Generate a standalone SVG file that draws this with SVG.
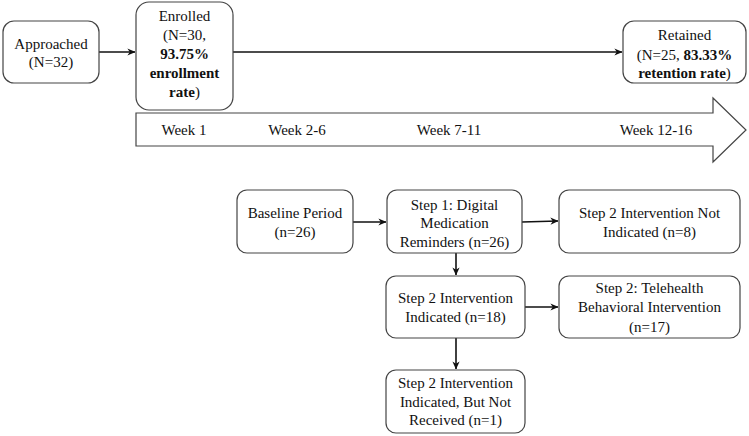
<svg xmlns="http://www.w3.org/2000/svg" width="749" height="436" viewBox="0 0 749 436">
<style>
.box{fill:#fff;stroke:#444;stroke-width:1.2}
.t{font-family:"Liberation Serif","Times New Roman",serif;font-size:15px;fill:#111;text-anchor:middle;dominant-baseline:central}
.b{font-weight:bold}
.c{stroke:#111;stroke-width:1.6;fill:none;marker-end:url(#ah)}
</style>
<defs>
<marker id="ah" viewBox="0 0 10 10" refX="9.5" refY="5" markerWidth="8" markerHeight="8" markerUnits="userSpaceOnUse" orient="auto">
<path d="M0,0.5 L10,5 L0,9.5 L3,5 Z" fill="#111"/>
</marker>
</defs>
<rect width="749" height="436" fill="#fff"/>
<g id="connectors">
<line class="c" x1="99" y1="52" x2="135" y2="52"/>
<line class="c" x1="233" y1="52" x2="622" y2="52"/>
<line class="c" x1="353" y1="222" x2="386" y2="222"/>
<line class="c" x1="522" y1="222" x2="558" y2="221"/>
<line class="c" x1="456" y1="253" x2="456" y2="275"/>
<line class="c" x1="525" y1="307" x2="558" y2="307"/>
<line class="c" x1="456" y1="338" x2="456" y2="369"/>
</g>
<g id="timeline">
<path d="M136,113 H713 V98 L746,130 L713,162 V146 H136 Z" fill="#fff" stroke="#444" stroke-width="1.2"/>
<text class="t" x="184" y="130">Week 1</text>
<text class="t" x="297" y="130">Week 2-6</text>
<text class="t" x="449" y="130">Week 7-11</text>
<text class="t" x="656" y="130">Week 12-16</text>
</g>
<g id="approached">
<rect class="box" x="3" y="21" width="96" height="62" rx="11"/>
<text class="t" x="51" y="44">Approached</text>
<text class="t" x="51" y="62">(N=32)</text>
</g>
<g id="enrolled">
<rect class="box" x="136" y="2" width="97" height="108" rx="13"/>
<text class="t" x="184.5" y="16">Enrolled</text>
<text class="t" x="184.5" y="35">(N=30,</text>
<text class="t b" x="184.5" y="54">93.75%</text>
<text class="t b" x="184.5" y="73">enrollment</text>
<text class="t" x="184.5" y="92"><tspan class="b">rate</tspan>)</text>
</g>
<g id="retained">
<rect class="box" x="623" y="21" width="123" height="62" rx="11"/>
<text class="t" x="684.5" y="35">Retained</text>
<text class="t" x="684.5" y="55">(N=25, <tspan class="b">83.33%</tspan></text>
<text class="t" x="684.5" y="73"><tspan class="b">retention rate</tspan>)</text>
</g>
<g id="baseline">
<rect class="box" x="237" y="190" width="116" height="63" rx="10"/>
<text class="t" x="295" y="213">Baseline Period</text>
<text class="t" x="295" y="232">(n=26)</text>
</g>
<g id="step1">
<rect class="box" x="387" y="190" width="135" height="63" rx="10"/>
<text class="t" x="454.5" y="205">Step 1: Digital</text>
<text class="t" x="454.5" y="223">Medication</text>
<text class="t" x="454.5" y="242">Reminders (n=26)</text>
</g>
<g id="notindicated">
<rect class="box" x="559" y="190" width="181" height="63" rx="10"/>
<text class="t" x="649.5" y="213">Step 2 Intervention Not</text>
<text class="t" x="649.5" y="232">Indicated (n=8)</text>
</g>
<g id="indicated">
<rect class="box" x="386" y="276" width="139" height="62" rx="10"/>
<text class="t" x="455.5" y="298">Step 2 Intervention</text>
<text class="t" x="455.5" y="317">Indicated (n=18)</text>
</g>
<g id="telehealth">
<rect class="box" x="559" y="276" width="181" height="62" rx="10"/>
<text class="t" x="649.5" y="288">Step 2: Telehealth</text>
<text class="t" x="649.5" y="307">Behavioral Intervention</text>
<text class="t" x="649.5" y="327">(n=17)</text>
</g>
<g id="notreceived">
<rect class="box" x="386" y="370" width="139" height="63" rx="10"/>
<text class="t" x="455.5" y="383">Step 2 Intervention</text>
<text class="t" x="455.5" y="402">Indicated, But Not</text>
<text class="t" x="455.5" y="420">Received (n=1)</text>
</g>
</svg>
